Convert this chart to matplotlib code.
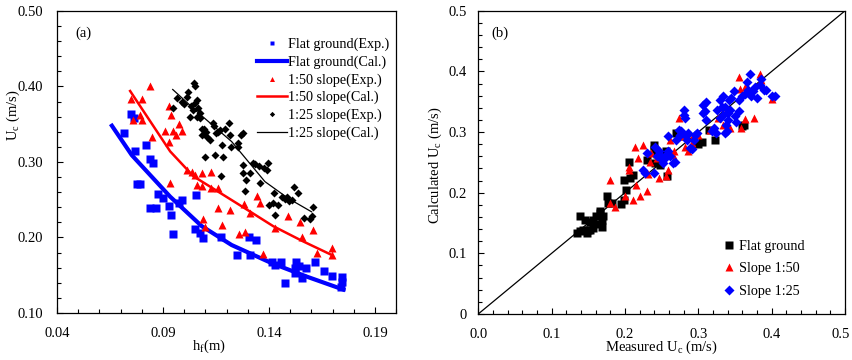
import matplotlib
matplotlib.use("Agg")
import matplotlib.pyplot as plt
from matplotlib.ticker import MultipleLocator, FixedLocator
import numpy as np

plt.rcParams['font.family'] = ['Liberation Serif', 'DejaVu Serif']
plt.rcParams['mathtext.fontset'] = 'custom'
plt.rcParams['mathtext.rm'] = 'Liberation Serif'
plt.rcParams['mathtext.it'] = 'Liberation Serif:italic'
plt.rcParams['font.size'] = 10.5

# ---- panel (a): critical velocity vs depth ----
flat_h = [0.0718, 0.0749, 0.0762, 0.0769, 0.0777, 0.0790, 0.0818, 0.0837, 0.0851, 0.0840,
          0.0865, 0.0878, 0.0900, 0.0927, 0.0938, 0.0947, 0.0974, 0.0990, 0.1057, 0.1049,
          0.1076, 0.1087, 0.1175, 0.1249, 0.1304, 0.1309, 0.1337, 0.1416, 0.1427, 0.1458,
          0.1477, 0.1522, 0.1528, 0.1541, 0.1557, 0.1576, 0.1617, 0.1658, 0.1697, 0.1744,
          0.1744, 0.1739, 0.1521]
flat_u = [0.339, 0.363, 0.358, 0.315, 0.271, 0.271, 0.323, 0.304, 0.299, 0.239,
          0.239, 0.257, 0.252, 0.242, 0.230, 0.204, 0.245, 0.250, 0.256, 0.211,
          0.206, 0.199, 0.201, 0.177, 0.200, 0.177, 0.197, 0.167, 0.163, 0.167,
          0.140, 0.159, 0.167, 0.162, 0.146, 0.159, 0.167, 0.155, 0.149, 0.147,
          0.141, 0.134, 0.153]
flat_cal_h = [0.0659, 0.0753, 0.0934, 0.1083, 0.1224, 0.1413, 0.1580, 0.1751]
flat_cal_u = [0.348, 0.309, 0.254, 0.215, 0.190, 0.166, 0.148, 0.131]

s50_h = [0.0749, 0.0840, 0.0801, 0.0758, 0.0790, 0.0799, 0.0848, 0.0927, 0.0938, 0.0909,
         0.0927, 0.0947, 0.0963, 0.0974, 0.0990, 0.0934, 0.1013, 0.1037, 0.1049, 0.1060,
         0.1082, 0.1085, 0.1126, 0.1089, 0.1098, 0.1128, 0.1162, 0.1161, 0.1178, 0.1217,
         0.1261, 0.1280, 0.1288, 0.1309, 0.1346, 0.1359, 0.1370, 0.1427, 0.1488, 0.1548,
         0.1555, 0.1610, 0.1629, 0.1697, 0.1698]
s50_u = [0.383, 0.401, 0.383, 0.355, 0.362, 0.355, 0.333, 0.374, 0.362, 0.341,
         0.327, 0.341, 0.336, 0.350, 0.341, 0.272, 0.289, 0.287, 0.283, 0.270,
         0.268, 0.285, 0.287, 0.225, 0.214, 0.265, 0.265, 0.239, 0.216, 0.236,
         0.205, 0.244, 0.207, 0.232, 0.255, 0.246, 0.178, 0.213, 0.229, 0.221,
         0.200, 0.210, 0.179, 0.186, 0.177]
s50_cal_h = [0.0745, 0.0934, 0.1044, 0.1170, 0.1290, 0.1420, 0.1560, 0.1695]
s50_cal_u = [0.394, 0.314, 0.281, 0.259, 0.238, 0.215, 0.195, 0.177]

s25_h = [0.0947, 0.0966, 0.0990, 0.0997, 0.1013, 0.1018, 0.1048, 0.1052, 0.1032, 0.1041,
         0.1052, 0.1060, 0.1063, 0.1073, 0.1029, 0.1060, 0.1076, 0.1084, 0.1095, 0.1084,
         0.1104, 0.1100, 0.1107, 0.1123, 0.1136, 0.1142, 0.1147, 0.1151, 0.1162, 0.1170,
         0.1178, 0.1175, 0.1183, 0.1194, 0.1210, 0.1217, 0.1221, 0.1252, 0.1255, 0.1269,
         0.1277, 0.1288, 0.1277, 0.1276, 0.1293, 0.1309, 0.1324, 0.1335, 0.1351, 0.1359,
         0.1375, 0.1390, 0.1394, 0.1398, 0.1417, 0.1430, 0.1445, 0.1461, 0.1477, 0.1485,
         0.1497, 0.1508, 0.1516, 0.1538, 0.1566, 0.1595, 0.1607, 0.1604, 0.1425]
s25_u = [0.372, 0.385, 0.380, 0.377, 0.386, 0.392, 0.404, 0.400, 0.374, 0.369,
         0.378, 0.382, 0.371, 0.365, 0.360, 0.360, 0.358, 0.344, 0.344, 0.336,
         0.340, 0.307, 0.333, 0.329, 0.352, 0.347, 0.309, 0.338, 0.340, 0.342,
         0.322, 0.281, 0.307, 0.344, 0.351, 0.336, 0.320, 0.325, 0.320, 0.336,
         0.339, 0.261, 0.296, 0.285, 0.276, 0.285, 0.298, 0.297, 0.294, 0.272,
         0.292, 0.289, 0.298, 0.243, 0.246, 0.230, 0.243, 0.254, 0.251, 0.254,
         0.248, 0.250, 0.267, 0.259, 0.226, 0.224, 0.240, 0.229, 0.259]
s25_cal_h = [0.0946, 0.1067, 0.1224, 0.1381, 0.1490, 0.1601]
s25_cal_u = [0.396, 0.365, 0.327, 0.274, 0.252, 0.234]

# ---- panel (b): measured vs calculated ----
fb_meas = [0.134, 0.139, 0.143, 0.148, 0.150, 0.145, 0.152, 0.157, 0.161, 0.166,
           0.168, 0.168, 0.166, 0.161, 0.170, 0.157, 0.152, 0.139, 0.176, 0.177,
           0.182, 0.195, 0.199, 0.201, 0.199, 0.205, 0.207, 0.211, 0.230, 0.239,
           0.240, 0.243, 0.241, 0.248, 0.256, 0.257, 0.270, 0.273, 0.299, 0.305,
           0.314, 0.323, 0.359, 0.362]
fb_calc = [0.133, 0.136, 0.139, 0.133, 0.139, 0.155, 0.152, 0.155, 0.161, 0.166,
           0.155, 0.144, 0.169, 0.149, 0.161, 0.141, 0.139, 0.161, 0.194, 0.183,
           0.183, 0.182, 0.188, 0.204, 0.221, 0.251, 0.224, 0.229, 0.254, 0.279,
           0.272, 0.264, 0.249, 0.245, 0.268, 0.227, 0.299, 0.293, 0.281, 0.283,
           0.304, 0.287, 0.310, 0.312]

sb50_meas = [0.180, 0.180, 0.186, 0.200, 0.205, 0.206, 0.211, 0.214, 0.215, 0.218,
             0.221, 0.230, 0.232, 0.234, 0.236, 0.225, 0.243, 0.247, 0.256, 0.258,
             0.262, 0.266, 0.267, 0.273, 0.273, 0.280, 0.282, 0.286, 0.292, 0.293,
             0.300, 0.316, 0.327, 0.334, 0.343, 0.356, 0.357, 0.364, 0.364, 0.376,
             0.384, 0.385, 0.401, 0.358, 0.334]
sb50_calc = [0.221, 0.183, 0.176, 0.194, 0.238, 0.243, 0.188, 0.276, 0.213, 0.257,
             0.194, 0.202, 0.231, 0.250, 0.265, 0.278, 0.257, 0.224, 0.227, 0.238,
             0.287, 0.262, 0.268, 0.323, 0.298, 0.293, 0.276, 0.268, 0.282, 0.293,
             0.295, 0.304, 0.323, 0.312, 0.306, 0.391, 0.371, 0.374, 0.321, 0.323,
             0.396, 0.386, 0.354, 0.306, 0.341]

sb25_meas = [0.225, 0.227, 0.230, 0.239, 0.241, 0.244, 0.247, 0.248, 0.250, 0.252,
             0.255, 0.257, 0.258, 0.259, 0.261, 0.265, 0.268, 0.270, 0.273, 0.275,
             0.276, 0.280, 0.280, 0.282, 0.283, 0.284, 0.286, 0.289, 0.291, 0.294,
             0.295, 0.298, 0.306, 0.307, 0.309, 0.310, 0.318, 0.321, 0.324, 0.326,
             0.329, 0.330, 0.332, 0.333, 0.334, 0.336, 0.338, 0.339, 0.340, 0.341,
             0.342, 0.343, 0.345, 0.348, 0.350, 0.352, 0.355, 0.356, 0.359, 0.364,
             0.366, 0.368, 0.370, 0.372, 0.375, 0.377, 0.380, 0.384, 0.386, 0.389,
             0.392, 0.400, 0.405, 0.336, 0.311]
sb25_calc = [0.237, 0.232, 0.265, 0.233, 0.276, 0.260, 0.268, 0.262, 0.254, 0.249,
             0.257, 0.264, 0.268, 0.294, 0.260, 0.249, 0.250, 0.287, 0.304, 0.295,
             0.301, 0.337, 0.328, 0.323, 0.293, 0.287, 0.298, 0.273, 0.272, 0.287,
             0.295, 0.298, 0.345, 0.331, 0.334, 0.320, 0.301, 0.306, 0.298, 0.337,
             0.323, 0.353, 0.342, 0.328, 0.359, 0.298, 0.312, 0.301, 0.320, 0.331,
             0.353, 0.337, 0.356, 0.367, 0.326, 0.317, 0.334, 0.353, 0.359, 0.363,
             0.383, 0.370, 0.396, 0.359, 0.367, 0.374, 0.356, 0.378, 0.387, 0.369,
             0.370, 0.359, 0.359, 0.341, 0.350]

fig = plt.figure(figsize=(8.52, 3.6), dpi=100)
ax1 = fig.add_axes([0.0669, 0.1306, 0.398, 0.839])
ax2 = fig.add_axes([0.5614, 0.1280, 0.4304, 0.842])

# panel (a)
ax1.plot(flat_h, flat_u, 's', color='#0000ff', ms=5.5, mec='none', label='Flat ground(Exp.)')
ax1.plot(flat_cal_h, flat_cal_u, '-', color='#0000ff', lw=3, label='Flat ground(Cal.)')
ax1.plot(s50_h, s50_u, '^', color='#ff0000', ms=6, mec='none', label='1:50 slope(Exp.)')
ax1.plot(s50_cal_h, s50_cal_u, '-', color='#ff0000', lw=1.8, label='1:50 slope(Cal.)')
ax1.plot(s25_h, s25_u, 'D', color='black', ms=4.5, mec='none', label='1:25 slope(Exp.)')
ax1.plot(s25_cal_h, s25_cal_u, '-', color='black', lw=0.9, label='1:25 slope(Cal.)')

ax1.set_xlim(0.04, 0.20)
ax1.set_ylim(0.10, 0.50)
ax1.xaxis.set_major_locator(FixedLocator([0.04, 0.09, 0.14, 0.19]))
ax1.xaxis.set_minor_locator(MultipleLocator(0.01))
ax1.yaxis.set_major_locator(MultipleLocator(0.10))
ax1.yaxis.set_minor_locator(MultipleLocator(0.02))
ax1.xaxis.set_major_formatter(plt.FormatStrFormatter('%.2f'))
ax1.yaxis.set_major_formatter(plt.FormatStrFormatter('%.2f'))
ax1.set_xlabel(r'h$_\mathrm{f}$(m)', fontsize=10.5)
ax1.set_ylabel(r'U$_\mathrm{c}$ (m/s)', fontsize=10.5)
ax1.xaxis.set_label_coords(0.448, -0.083)
ax1.yaxis.set_label_coords(-0.103, 0.656)
ax1.text(0.055, 0.915, '(a)', transform=ax1.transAxes, fontsize=10.5)
ax1.legend(loc='upper right', frameon=False, fontsize=10.2, markerscale=0.6,
           handlelength=2.1, handletextpad=0.1, labelspacing=0.3,
           borderaxespad=0.0, bbox_to_anchor=(0.997, 0.93))

# panel (b)
ax2.plot([0, 0.5], [0, 0.5], '-', color='black', lw=0.9)
ax2.plot(fb_meas, fb_calc, 's', color='black', ms=5.5, mec='none', label='Flat ground')
ax2.plot(sb50_meas, sb50_calc, '^', color='#ff0000', ms=6, mec='none', label='Slope 1:50')
ax2.plot(sb25_meas, sb25_calc, 'D', color='#0000ff', ms=4.8, mec='none', label='Slope 1:25')

ax2.set_xlim(0, 0.5)
ax2.set_ylim(0, 0.5)
ax2.xaxis.set_major_locator(MultipleLocator(0.1))
ax2.xaxis.set_minor_locator(MultipleLocator(0.02))
ax2.yaxis.set_major_locator(MultipleLocator(0.1))
ax2.yaxis.set_minor_locator(MultipleLocator(0.02))
# last x label is drawn separately so it stays inside the figure
ax2.xaxis.set_major_formatter(plt.FuncFormatter(lambda v, p: '' if v > 0.49 else '%.1f' % v))
ax2.yaxis.set_major_formatter(plt.FuncFormatter(lambda v, p: '0' if abs(v) < 1e-9 else '%.1f' % v))
ax2.annotate('0.5', xy=(0.5, 0), xycoords=('data', 'axes fraction'),
             xytext=(-3, -10), textcoords='offset points', ha='center', va='top',
             fontsize=10.5, annotation_clip=False)
ax2.set_xlabel(r'Measured U$_\mathrm{c}$ (m/s)', fontsize=10.5)
ax2.set_ylabel(r'Calculated U$_\mathrm{c}$ (m/s)', fontsize=10.5)
ax2.xaxis.set_label_coords(0.5, -0.083)
ax2.yaxis.set_label_coords(-0.094, 0.49)
ax2.text(0.035, 0.915, '(b)', transform=ax2.transAxes, fontsize=10.5)
ax2.legend(loc='lower right', frameon=False, fontsize=10.2, handlelength=0.8,
           handletextpad=0.3, labelspacing=0.65, borderaxespad=0.0,
           bbox_to_anchor=(0.905, 0.035))

for ax in (ax1, ax2):
    ax.tick_params(which='both', direction='in', labelsize=10.5)
    ax.tick_params(which='major', length=4, width=0.8)
    ax.tick_params(which='minor', length=3, width=0.8)
    for sp in ax.spines.values():
        sp.set_linewidth(0.9)
ax1.tick_params(axis='x', which='major', pad=10)
ax1.tick_params(axis='y', which='major', pad=10)
ax2.tick_params(axis='x', which='major', pad=10)
ax2.tick_params(axis='y', which='major', pad=8)

fig.savefig('out.png', dpi=100)
